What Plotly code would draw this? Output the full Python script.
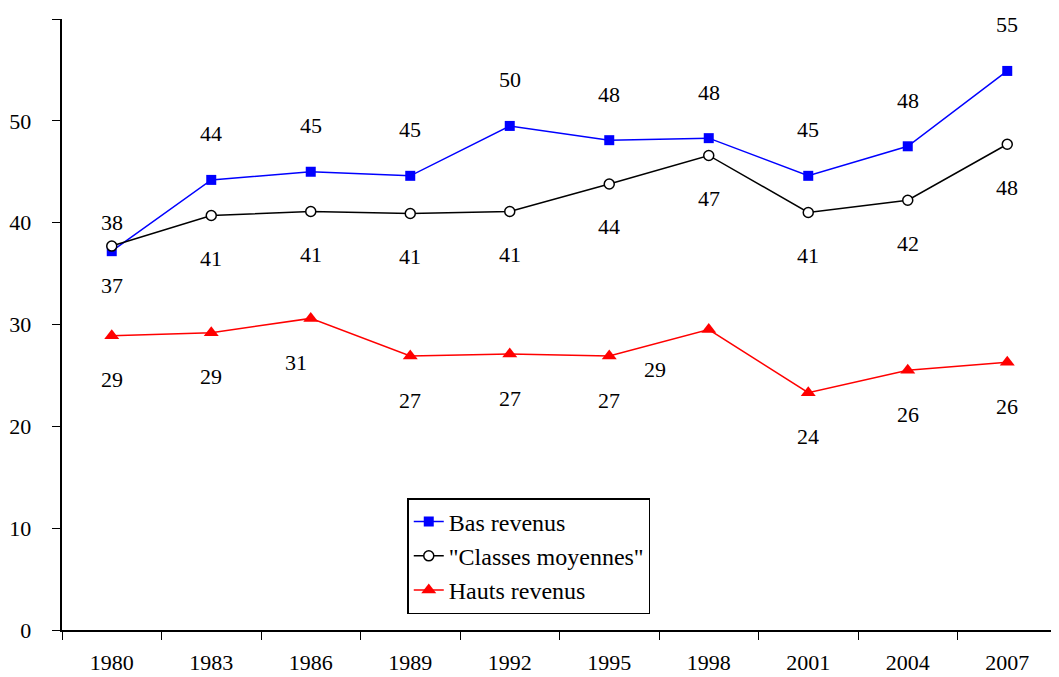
import plotly.graph_objects as go

years = ["1980", "1983", "1986", "1989", "1992", "1995", "1998", "2001", "2004", "2007"]
bas = [37.2, 44.2, 45.0, 44.6, 49.5, 48.1, 48.3, 44.6, 47.5, 54.9]
classes = [37.7, 40.7, 41.1, 40.9, 41.1, 43.8, 46.6, 41.0, 42.2, 47.7]
hauts = [28.9, 29.2, 30.6, 26.9, 27.1, 26.9, 29.5, 23.3, 25.5, 26.3]
bas_labels = ["37", "44", "45", "45", "50", "48", "48", "45", "48", "55"]
classes_labels = ["38", "41", "41", "41", "41", "44", "47", "41", "42", "48"]
hauts_labels = ["29", "29", "31", "27", "27", "27", "29", "24", "26", "26"]

font = "'Liberation Serif', 'DejaVu Serif', serif"
tf = dict(family=font, size=22, color="black")

fig = go.Figure()
fig.add_trace(go.Scatter(x=years, y=bas, mode="lines+markers", name="Bas revenus",
                         line=dict(color="#0000ff", width=1.5),
                         marker=dict(symbol="square", size=10, color="#0000ff")))
fig.add_trace(go.Scatter(x=years, y=classes, mode="lines+markers", name="\"Classes moyennes\"",
                         line=dict(color="black", width=1.5),
                         marker=dict(symbol="circle", size=10, color="white",
                                     line=dict(color="black", width=1.5))))
fig.add_trace(go.Scatter(x=years, y=hauts, mode="lines+markers", name="Hauts revenus",
                         line=dict(color="#ff0000", width=1.5),
                         marker=dict(symbol="triangle-up", size=13, color="#ff0000")))

annotations = []
for i, yr in enumerate(years):
    shift = -34 if i == 0 else 46
    annotations.append(dict(x=i, y=bas[i], xref="x", yref="y", text=bas_labels[i],
                            showarrow=False, yshift=shift, font=tf))
    shift = 24 if i == 0 else -43
    annotations.append(dict(x=i, y=classes[i], xref="x", yref="y", text=classes_labels[i],
                            showarrow=False, yshift=shift, font=tf))
    xs = 0
    if yr == "1998":
        xs = -54
    elif yr == "1986":
        xs = -15
    annotations.append(dict(x=i, y=hauts[i], xref="x", yref="y", text=hauts_labels[i],
                            showarrow=False, yshift=-44 if yr != "1998" else -40, xshift=xs,
                            font=tf))

fig.update_layout(
    width=1051, height=669,
    margin=dict(l=54, r=2, t=11, b=47),
    paper_bgcolor="white", plot_bgcolor="white",
    font=dict(family=font, size=22, color="black"),
    showlegend=True,
    legend=dict(x=0.347, y=0.216, xanchor="left", yanchor="top",
                bordercolor="black", borderwidth=1.5, bgcolor="white",
                font=dict(family=font, size=24, color="black"), tracegroupgap=4),
    annotations=annotations,
    xaxis=dict(type="category", range=[-0.5, 9.5], showline=True, linecolor="black", linewidth=1.5,
               ticks="outside", ticklen=8, tickcolor="black", tickson="boundaries",
               showgrid=False, tickfont=tf, ticklabelstandoff=12),
    yaxis=dict(range=[0, 60], dtick=10, showline=True, linecolor="black", linewidth=1.5,
               ticks="outside", ticklen=8, tickcolor="black", showgrid=False, zeroline=False,
               tickfont=tf, ticksuffix="   "),
)
fig.write_html("out.html")
